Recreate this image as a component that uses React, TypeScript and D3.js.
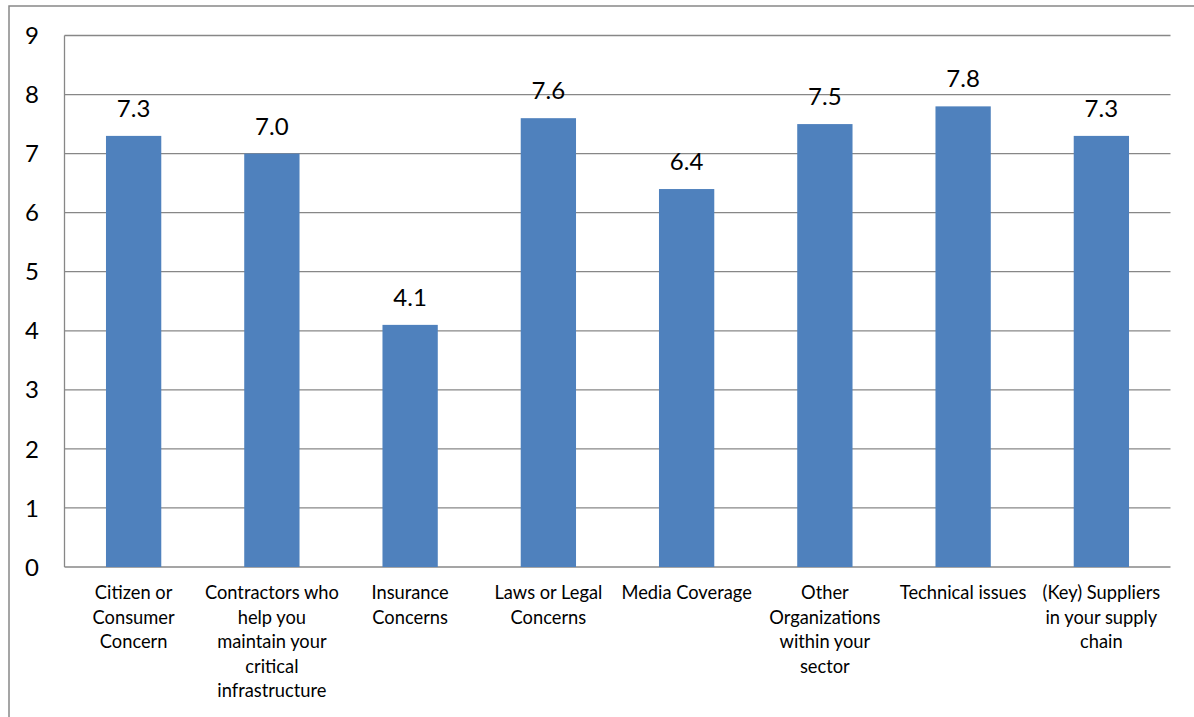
import React from "react";
import * as d3 from "d3";

// Category names; "\n" marks where each axis label wraps.
const categories: string[] = [
  "Citizen or\nConsumer\nConcern",
  "Contractors who\nhelp you\nmaintain your\ncritical\ninfrastructure",
  "Insurance\nConcerns",
  "Laws or Legal\nConcerns",
  "Media Coverage",
  "Other\nOrganizations\nwithin your\nsector",
  "Technical issues",
  "(Key) Suppliers\nin your supply\nchain",
];

const values: number[] = [7.3, 7.0, 4.1, 7.6, 6.4, 7.5, 7.8, 7.3];

const yTicks: number[] = [0, 1, 2, 3, 4, 5, 6, 7, 8, 9];

const W = 1194;
const H = 717;
const plot = { left: 64.5, right: 1170.5, top: 35.5, bottom: 567 };
const FONT = "Lato, 'Open Sans', sans-serif";

export default function App() {
  const x = d3
    .scaleBand<number>()
    .domain(d3.range(categories.length))
    .range([plot.left, plot.right])
    .paddingInner(0.6)
    .paddingOuter(0.3);
  const band = d3
    .scaleBand<number>()
    .domain(d3.range(categories.length))
    .range([plot.left, plot.right]);
  const y = d3.scaleLinear().domain([0, 9]).range([plot.bottom, plot.top]);
  const fmt = d3.format(".1f");

  return (
    <svg
      width={W}
      height={H}
      style={{ position: "absolute", left: 0, top: 0, display: "block", background: "#fff" }}
    >
      {/* outer chart frame */}
      <rect x={9} y={6} width={W + 20} height={H + 20} fill="#fff" stroke="#888" strokeWidth={1.5} />

      {/* horizontal gridlines */}
      {yTicks.map((t) => (
        <line
          key={"g" + t}
          x1={plot.left}
          x2={plot.right}
          y1={y(t)}
          y2={y(t)}
          stroke="#878787"
          strokeWidth={1.3}
        />
      ))}
      {/* vertical axis line */}
      <line x1={plot.left} x2={plot.left} y1={plot.top} y2={plot.bottom} stroke="#878787" strokeWidth={1.3} />

      {/* y tick labels */}
      {yTicks.map((t) => (
        <text
          key={"t" + t}
          x={39}
          y={y(t)}
          dy="0.36em"
          textAnchor="end"
          fontFamily={FONT}
          fontSize={24}
          fill="#000"
        >
          {t}
        </text>
      ))}

      {/* bars */}
      {values.map((v, i) => (
        <rect
          key={"b" + i}
          x={x(i)}
          y={y(v)}
          width={x.bandwidth()}
          height={y(0) - y(v)}
          fill="#4F81BD"
        />
      ))}

      {/* value labels */}
      {values.map((v, i) => (
        <text
          key={"v" + i}
          x={(x(i) as number) + x.bandwidth() / 2}
          y={y(v) - 19}
          textAnchor="middle"
          fontFamily={FONT}
          fontSize={24}
          fill="#000"
        >
          {fmt(v)}
        </text>
      ))}

      {/* category labels */}
      {categories.map((c, i) => (
        <text
          key={"c" + i}
          x={(band(i) as number) + band.bandwidth() / 2}
          y={599}
          textAnchor="middle"
          fontFamily={FONT}
          fontSize={18.3}
          fill="#000"
        >
          {c.split("\n").map((line, j) => (
            <tspan key={j} x={(band(i) as number) + band.bandwidth() / 2} dy={j === 0 ? 0 : 24.5}>
              {line}
            </tspan>
          ))}
        </text>
      ))}
    </svg>
  );
}
